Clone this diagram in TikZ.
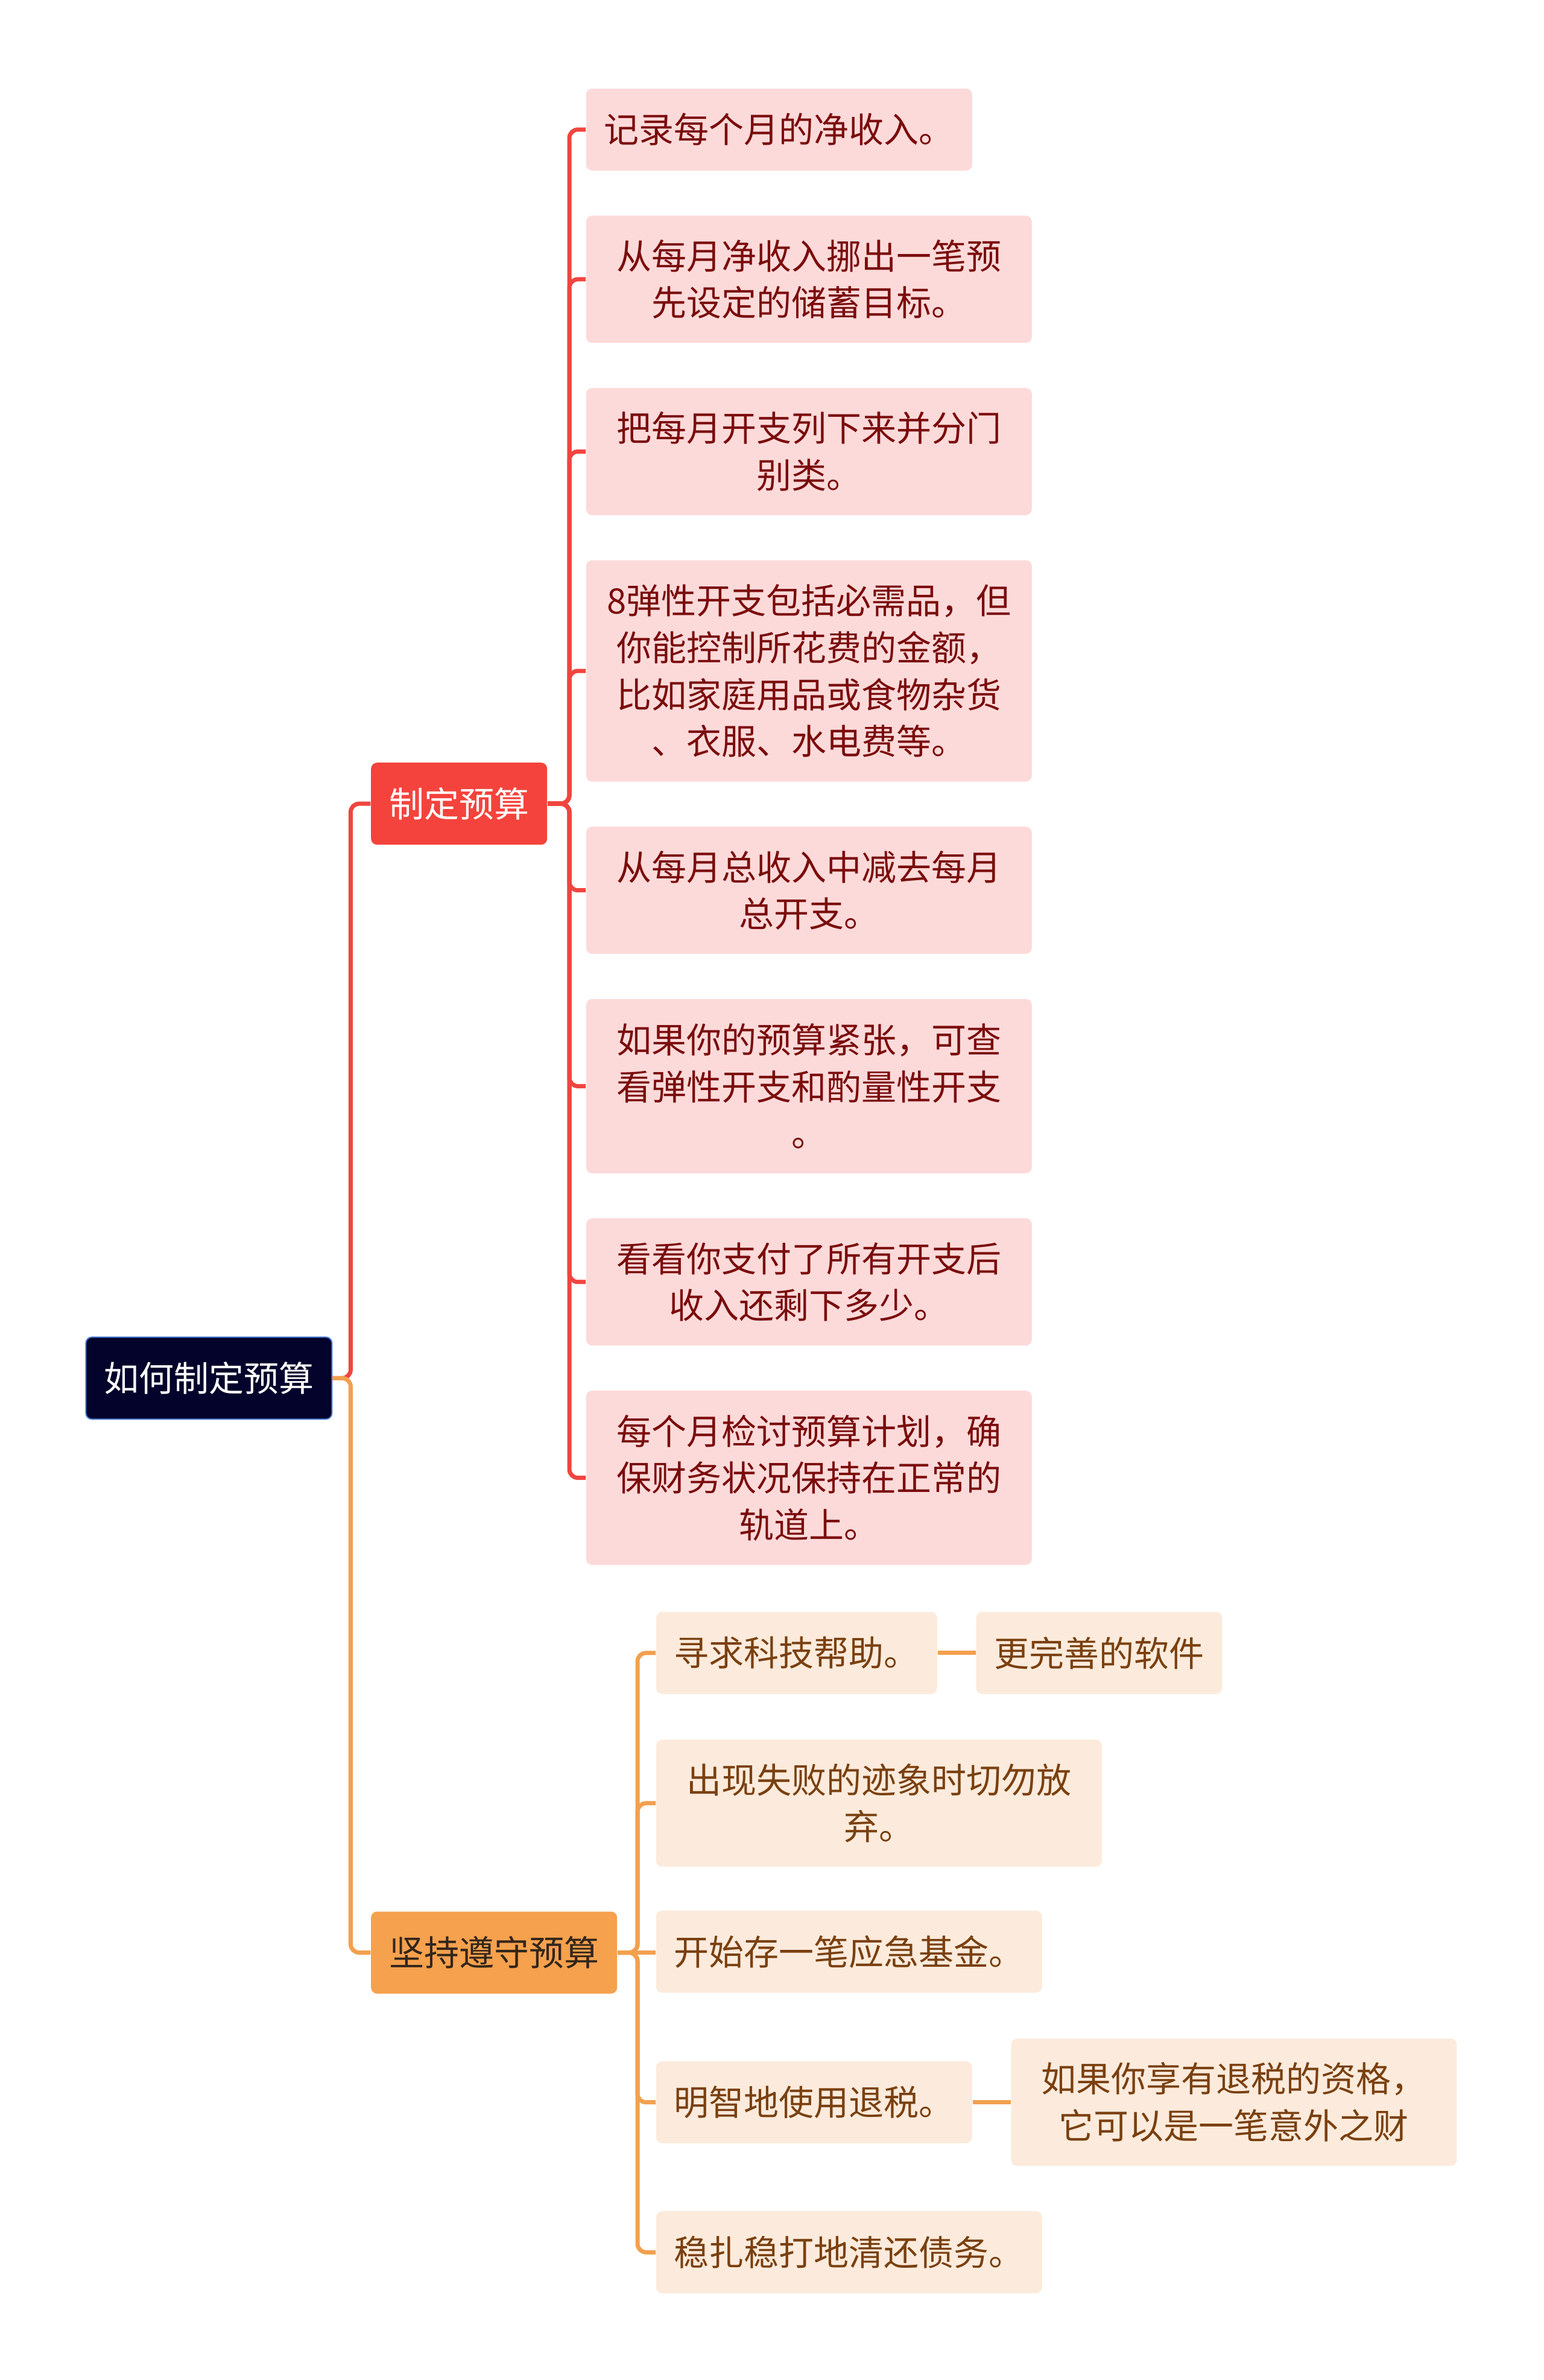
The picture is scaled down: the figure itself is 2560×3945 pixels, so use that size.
\documentclass[tikz,border=0pt]{standalone}
\usepackage{fontspec}
\setmainfont{Noto Sans CJK SC}
\usepackage{xcolor}
\usetikzlibrary{positioning,calc}

\definecolor{rootfill}{HTML}{03032B}
\definecolor{rootline}{HTML}{4A7BD6}
\definecolor{redmain}{HTML}{F4433C}
\definecolor{redwirec}{HTML}{F0453F}
\definecolor{redpale}{HTML}{FDDADA}
\definecolor{redtext}{HTML}{7B0C0C}
\definecolor{orgmain}{HTML}{F5A14E}
\definecolor{orgwirec}{HTML}{F2A04F}
\definecolor{orgdark}{HTML}{33261A}
\definecolor{orgpale}{HTML}{FCEBDC}
\definecolor{orgtext}{HTML}{7A4010}

\begin{document}
\begin{tikzpicture}[x=0.25pt, y=-0.25pt, font=\fontsize{14.5}{19.4}\selectfont,
  every node/.style={align=center, rounded corners=2.5pt, inner xsep=7.5pt, inner ysep=4pt, minimum height=34pt},
  rootbox/.style={fill=rootfill, draw=rootline, line width=0.5pt, text=white},
  redtop/.style={fill=redmain, text=white},
  orgtop/.style={fill=orgmain, text=orgdark},
  redleaf/.style={fill=redpale, text=redtext},
  orgleaf/.style={fill=orgpale, text=orgtext},
  wide/.style={minimum width=184.75pt},
  two/.style={minimum height=52.75pt},
  three/.style={minimum height=72.25pt},
  four/.style={minimum height=91.75pt},
  redwire/.style={draw=redwirec, line width=1.75pt, rounded corners=3.5pt},
  orgwire/.style={draw=orgwirec, line width=1.75pt, rounded corners=3.5pt}]
\useasboundingbox (0,0) rectangle (2560,3945);

% first branch leaves
\node[redleaf, anchor=north west] (r1) at (971,146) {记录每个月的净收入。};
\node[redleaf, wide, two, below=18.25pt of r1.south west, anchor=north west] (r2) {从每月净收入挪出一笔预\\先设定的储蓄目标。};
\node[redleaf, wide, two, below=18.25pt of r2.south west, anchor=north west] (r3) {把每月开支列下来并分门\\别类。};
\node[redleaf, wide, four, below=18.25pt of r3.south west, anchor=north west] (r4) {8弹性开支包括必需品，但\\你能控制所花费的金额，\\比如家庭用品或食物杂货\\、衣服、水电费等。};
\node[redleaf, wide, two, below=18.25pt of r4.south west, anchor=north west] (r5) {从每月总收入中减去每月\\总开支。};
\node[redleaf, wide, three, below=18.25pt of r5.south west, anchor=north west] (r6) {如果你的预算紧张，可查\\看弹性开支和酌量性开支\\。};
\node[redleaf, wide, two, below=18.25pt of r6.south west, anchor=north west] (r7) {看看你支付了所有开支后\\收入还剩下多少。};
\node[redleaf, wide, three, below=18.25pt of r7.south west, anchor=north west] (r8) {每个月检讨预算计划，确\\保财务状况保持在正常的\\轨道上。};

% second branch leaves
\node[orgleaf, anchor=north west] (o1) at (1087,2671) {寻求科技帮助。};
\node[orgleaf, right=15.75pt of o1] (o1b) {更完善的软件};
\node[orgleaf, wide, two, below=18.5pt of o1.south west, anchor=north west] (o2) {出现失败的迹象时切勿放\\弃。};
\node[orgleaf, below=17.75pt of o2.south west, anchor=north west] (o3) {开始存一笔应急基金。};
\node[orgleaf, below=28pt of o3.south west, anchor=north west] (o4) {明智地使用退税。};
\node[orgleaf, wide, two, right=15.75pt of o4] (o4b) {如果你享有退税的资格，\\它可以是一笔意外之财};
\node[orgleaf, below=27.75pt of o4.south west, anchor=north west] (o5) {稳扎稳打地清还债务。};

% branches and root
\node[redtop, anchor=east] (plan) at ($(r1.west)!.5!(r8.west)+(-63,0)$) {制定预算};
\node[orgtop, anchor=east] (keep) at ($(o1.west)!.5!(o5.west)+(-63,0)$) {坚持遵守预算};
\node[rootbox, anchor=east] (root) at ($(plan.west)!.5!(keep.west)+(-63,0)$) {如何制定预算};

% connectors
\draw[redwire] (root.east) -- ++(7.5pt,0) |- (plan.west);
\draw[orgwire] (root.east) -- ++(7.5pt,0) |- (keep.west);
\foreach \i in {1,...,8}
  \draw[redwire] (plan.east) -- ++(9pt,0) |- (r\i.west);
\foreach \k in {o1,o2,o4,o5}
  \draw[orgwire] (keep.east) -- ++(8.25pt,0) |- (\k.west);
\draw[orgwire] (keep.east) -- (keep.east -| o3.west);
\draw[orgwire] (o1) -- (o1b);
\draw[orgwire] (o4) -- (o4b);
\end{tikzpicture}
\end{document}
